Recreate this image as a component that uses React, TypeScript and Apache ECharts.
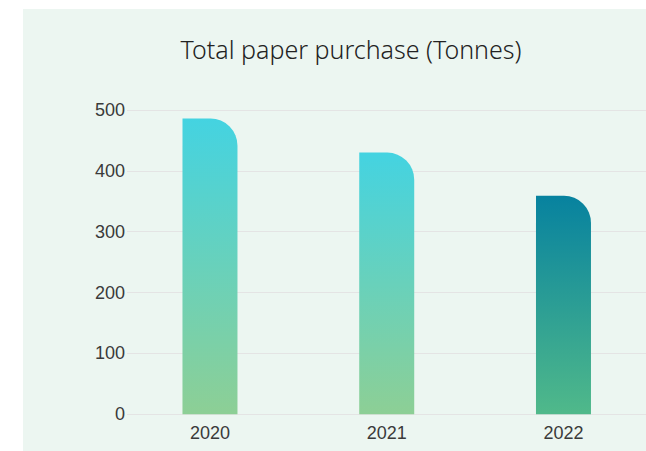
import React, { useEffect, useRef } from "react";
import * as echarts from "echarts";

const categories = ["2020", "2021", "2022"];
const purchases = [486, 430, 359];
const yTicks = { min: 0, max: 500, interval: 100 };

const lightTop = "#44d3e1";
const lightBottom = "#8dcf95";
const darkTop = "#07829f";
const darkBottom = "#50b98a";

export default function App() {
  const ref = useRef<HTMLDivElement>(null);
  useEffect(() => {
    if (!ref.current) return;
    const chart = echarts.init(ref.current, undefined, { renderer: "svg" });
    const grad = (top: string, bottom: string) =>
      new echarts.graphic.LinearGradient(0, 0, 0, 1, [
        { offset: 0, color: top },
        { offset: 1, color: bottom },
      ]);
    chart.setOption({
      animation: false,
      backgroundColor: "#ecf6f1",
      title: {
        text: "Total paper purchase (Tonnes)",
        left: "center",
        top: 22,
        textStyle: {
          fontFamily: "Noto Sans",
          fontWeight: 300,
          fontSize: 25,
          color: "#222222",
        },
      },
      grid: [
        { left: 104, right: 10, top: 101, bottom: 36.7 },
        { left: 98.6, width: 530.25, top: 101, bottom: 36.7 },
      ],
      xAxis: [
        { type: "category", gridIndex: 0, data: categories, show: false },
        {
          type: "category",
          gridIndex: 1,
          data: categories,
          axisLine: { show: false },
          axisTick: { show: false },
          axisLabel: {
            margin: 10,
            fontFamily: "Liberation Sans",
            fontSize: 18,
            color: "#3a3a3a",
          },
        },
      ],
      yAxis: [
        {
          type: "value",
          gridIndex: 0,
          min: yTicks.min,
          max: yTicks.max,
          interval: yTicks.interval,
          axisLine: { show: false },
          axisTick: { show: false },
          axisLabel: {
            margin: 2,
            padding: [6, 0, 0, 0],
            fontFamily: "Liberation Sans",
            fontSize: 18,
            color: "#3a3a3a",
          },
          splitLine: { lineStyle: { color: "#e4e4e4", width: 1 } },
        },
        {
          type: "value",
          gridIndex: 1,
          min: yTicks.min,
          max: yTicks.max,
          interval: yTicks.interval,
          show: false,
          splitLine: { show: false },
        },
      ],
      series: [
        {
          type: "bar",
          xAxisIndex: 1,
          yAxisIndex: 1,
          barWidth: 55,
          data: purchases.map((v, i) => ({
            value: v,
            itemStyle: {
              color:
                i === purchases.length - 1
                  ? grad(darkTop, darkBottom)
                  : grad(lightTop, lightBottom),
              borderRadius: [0, 27, 0, 0],
            },
          })),
        },
      ],
    });
    return () => chart.dispose();
  }, []);
  return (
    <div
      ref={ref}
      style={{ position: "fixed", left: 23, top: 9, width: 656, height: 442 }}
    />
  );
}
